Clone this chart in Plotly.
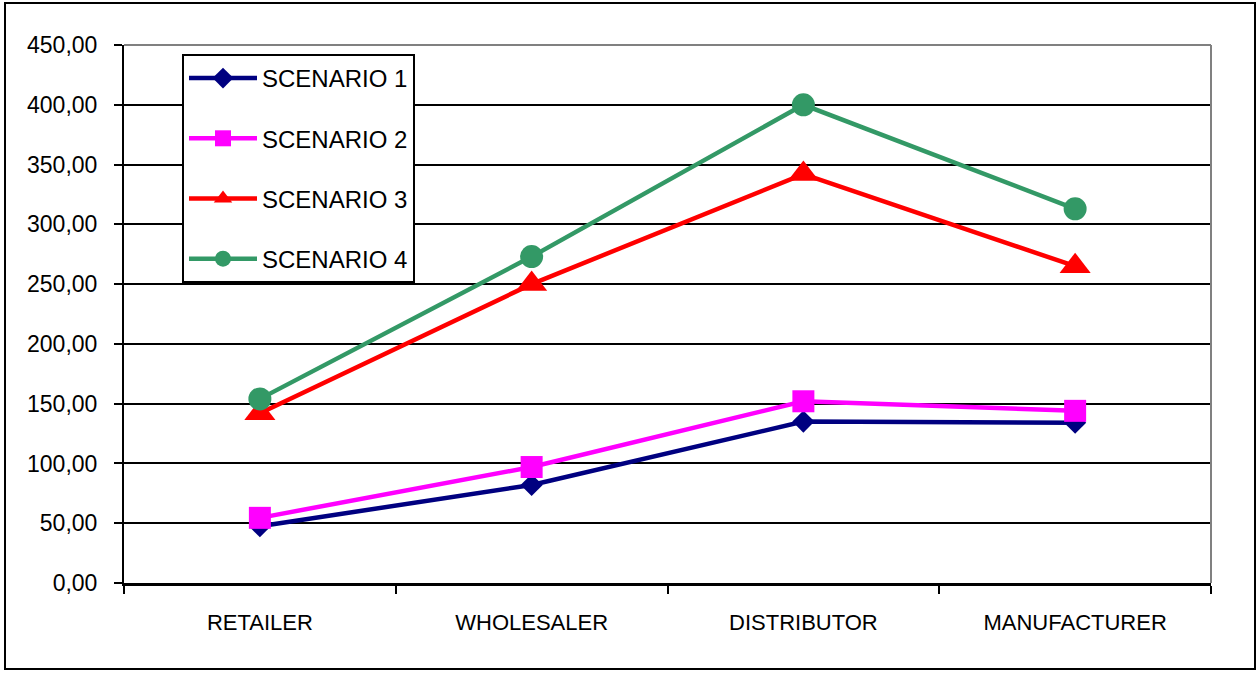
import plotly.graph_objects as go

STAGES = ["RETAILER", "WHOLESALER", "DISTRIBUTOR", "MANUFACTURER"]
SCENARIO_1 = [47.5, 82, 135, 134]
SCENARIO_2 = [54.5, 97, 152, 144]
SCENARIO_3 = [142, 250, 342, 265]
SCENARIO_4 = [154, 273, 400, 313]
Y_TICKS = [0, 50, 100, 150, 200, 250, 300, 350, 400, 450]

FONT = "Arial, Liberation Sans, sans-serif"
W, H = 1259, 673
L, R, T, B = 124, 48, 45, 90

series = [
    ("SCENARIO 1", SCENARIO_1, "#000080", "diamond", 17),
    ("SCENARIO 2", SCENARIO_2, "#FF00FF", "square", 22),
    ("SCENARIO 3", SCENARIO_3, "#FF0000", "triangle-up", 27),
    ("SCENARIO 4", SCENARIO_4, "#339966", "circle", 23),
]

fig = go.Figure()
for i, (name, vals, color, symbol, size) in enumerate(series):
    fig.add_trace(
        go.Scatter(
            x=STAGES,
            y=vals,
            name=name,
            legendgroup=f"g{i}",
            mode="lines+markers",
            line=dict(color=color, width=4.5),
            marker=dict(symbol=symbol, size=size, color=color, line=dict(width=0)),
        )
    )

pw = W - L - R
ph = H - T - B


def px_x(v):
    return (v - L) / pw


def px_y(v):
    return (H - B - v) / ph


fig.update_layout(
    width=W,
    height=H,
    margin=dict(l=L, r=R, t=T, b=B),
    paper_bgcolor="white",
    plot_bgcolor="white",
    separators=", ",
    font=dict(family=FONT, size=22, color="black"),
    showlegend=True,
    legend=dict(
        x=px_x(182),
        y=px_y(54),
        xanchor="left",
        yanchor="top",
        bgcolor="white",
        bordercolor="black",
        borderwidth=2,
        font=dict(family=FONT, size=24, color="black"),
        traceorder="grouped",
        tracegroupgap=26,
        itemwidth=68,
    ),
)

fig.update_xaxes(
    type="category",
    range=[-0.5, 3.5],
    tickson="boundaries",
    ticks="outside",
    ticklen=8,
    tickwidth=2,
    tickcolor="black",
    showline=True,
    linecolor="black",
    linewidth=3,
    showgrid=False,
    ticklabelstandoff=18,
    tickfont=dict(family=FONT, size=22, color="black"),
)
fig.update_yaxes(
    range=[0, 450],
    tickvals=Y_TICKS,
    tickformat=".2f",
    ticks="outside",
    ticklen=8,
    tickwidth=2,
    tickcolor="black",
    showline=True,
    linecolor="black",
    linewidth=2,
    showgrid=True,
    gridcolor="black",
    gridwidth=2,
    zeroline=False,
    ticklabelstandoff=12,
    tickfont=dict(family=FONT, size=23, color="black"),
)

# gray plot-area frame on top and right
fig.add_shape(type="line", xref="paper", yref="paper", x0=0, x1=1, y0=1, y1=1,
              line=dict(color="#808080", width=2), layer="above")
fig.add_shape(type="line", xref="paper", yref="paper", x0=1, x1=1, y0=0, y1=1,
              line=dict(color="#808080", width=2), layer="above")

# outer chart border
fig.add_shape(type="rect", xref="paper", yref="paper",
              x0=px_x(5), x1=px_x(1255), y0=px_y(669), y1=px_y(3),
              line=dict(color="black", width=2), fillcolor="rgba(0,0,0,0)", layer="below")

fig.write_html(
    "out.html",
    config={"displayModeBar": False},
    post_script="document.body.style.margin='0';",
)
